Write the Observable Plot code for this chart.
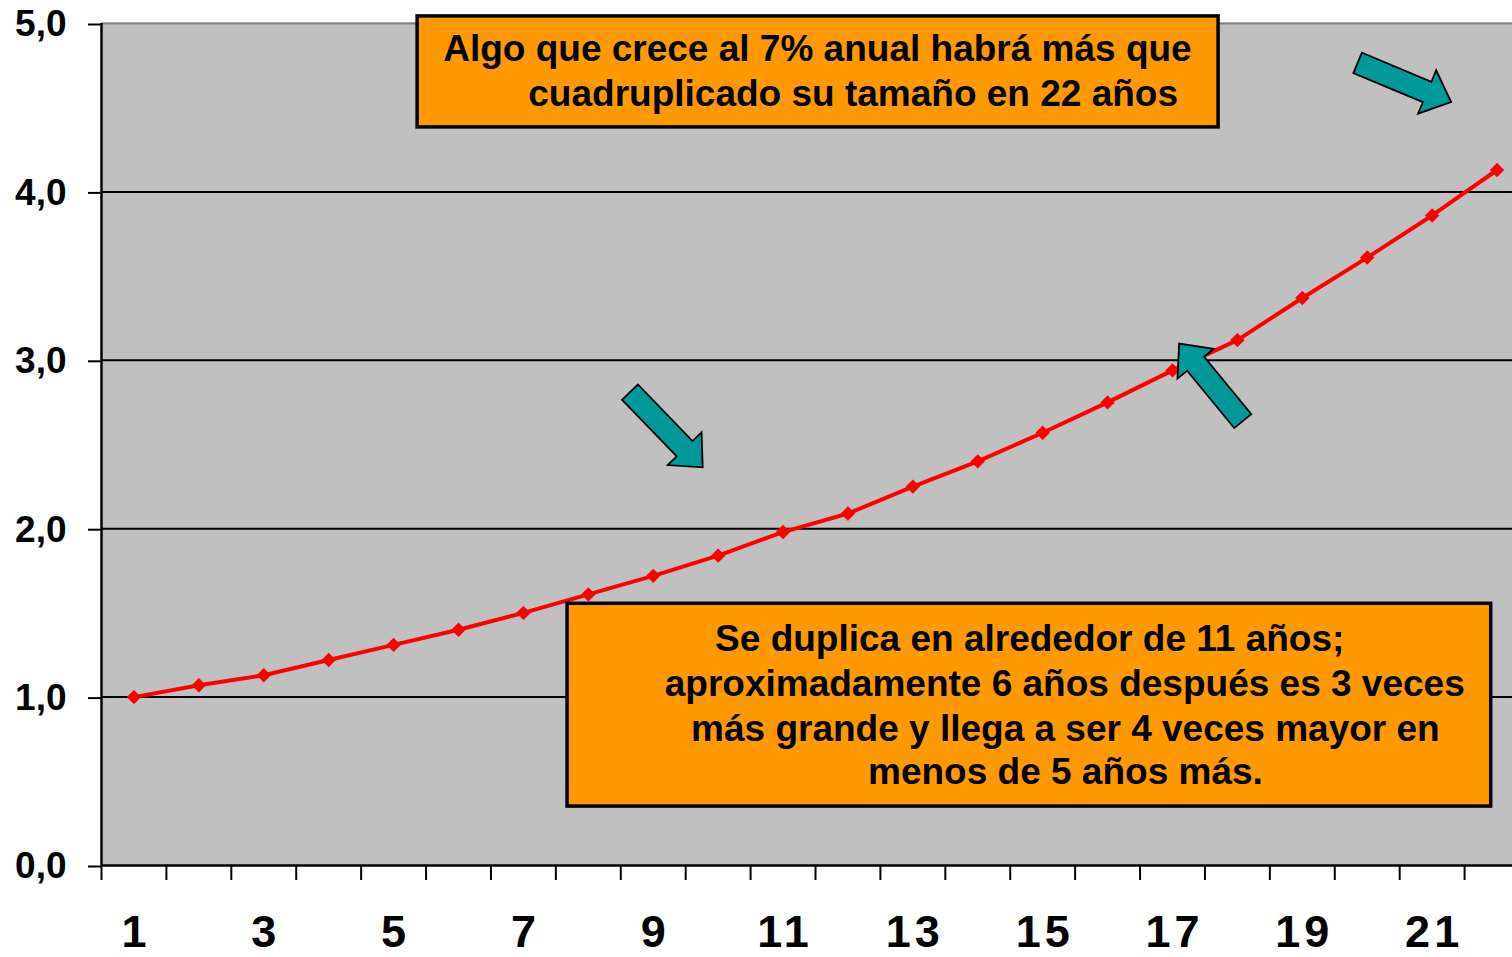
<!DOCTYPE html>
<html>
<head>
<meta charset="utf-8">
<script src="https://cdn.jsdelivr.net/npm/d3@7"></script>
<script src="https://cdn.jsdelivr.net/npm/@observablehq/plot@0.6"></script>
<style>
  html, body { margin: 0; padding: 0; background: white; }
  #chart { width: 1512px; height: 957px; overflow: hidden; }
</style>
</head>
<body>
<div id="chart"></div>
<script>
// ---- data ----
const years = [1, 2, 3, 4, 5, 6, 7, 8, 9, 10, 11, 12, 13, 14, 15, 16, 17, 18, 19, 20, 21, 22];
const values = [1.00, 1.07, 1.13, 1.22, 1.31, 1.40, 1.50, 1.61, 1.72, 1.84, 1.98, 2.09, 2.25, 2.40, 2.57, 2.75, 2.94, 3.12, 3.37, 3.61, 3.86, 4.13];
const xTickLabels = [1, 3, 5, 7, 9, 11, 13, 15, 17, 19, 21];
const yTicks = [0, 1, 2, 3, 4, 5];

// ---- annotations (data coordinates) ----
const boxes = [
  {x1: 5.37, x2: 17.71, y1: 5.042, y2: 4.383},
  {x1: 7.68, x2: 21.91, y1: 1.554, y2: 0.350}
];
const notes = [
  {x: 11.53, y: 4.775, text: "Algo que crece al 7% anual habrá más que"},
  {x: 12.08, y: 4.508, text: "cuadruplicado su tamaño en 22 años"},
  {x: 14.80, y: 1.275, text: "Se duplica en alrededor de 11 años;"},
  {x: 15.34, y: 1.008, text: "aproximadamente 6 años después es 3 veces"},
  {x: 15.35, y: 0.741, text: "más grande y llega a ser 4 veces mayor en"},
  {x: 15.35, y: 0.486, text: "menos de 5 años más."}
];
const arrows = [
  {x1: 19.86, y1: 4.763, x2: 21.30, y2: 4.531},
  {x1: 8.65, y1: 2.808, x2: 9.77, y2: 2.361},
  {x1: 18.09, y1: 2.636, x2: 17.11, y2: 3.096}
];

const series = years.map((year, i) => ({year, value: values[i]}));
const boundaries = years.map(d => d - 0.5);
const fmt = d => d.toFixed(1).replace(".", ",");

function blockArrows(index, scales) {
  const g = d3.create("svg:g").attr("aria-label", "arrows");
  const sw = 11, hw = 23.5, hl = 26;
  for (const a of arrows) {
    const tx = scales.x(a.x1), ty = scales.y(a.y1);
    const px = scales.x(a.x2), py = scales.y(a.y2);
    const dx = px - tx, dy = py - ty, L = Math.hypot(dx, dy);
    const ux = dx / L, uy = dy / L, nx = -uy, ny = ux;
    const bx = px - ux * hl, by = py - uy * hl;
    const pts = [
      [tx + nx * sw, ty + ny * sw],
      [bx + nx * sw, by + ny * sw],
      [bx + nx * hw, by + ny * hw],
      [px, py],
      [bx - nx * hw, by - ny * hw],
      [bx - nx * sw, by - ny * sw],
      [tx - nx * sw, ty - ny * sw]
    ];
    g.append("polygon")
      .attr("points", pts.map(p => p.join(",")).join(" "))
      .attr("fill", "#009999")
      .attr("stroke", "black")
      .attr("stroke-width", 1.8)
      .attr("stroke-linejoin", "miter");
  }
  return g.node();
}

const chart = Plot.plot({
  width: 1512,
  height: 957,
  marginLeft: 101,
  marginRight: 0,
  marginTop: 22,
  marginBottom: 92,
  style: {fontFamily: "'Liberation Sans', Arial, sans-serif", background: "white", color: "black", overflow: "hidden"},
  x: {type: "linear", domain: [0.5, 22.5], range: [101, 1529]},
  y: {domain: [0, 5], range: [865, 23]},
  marks: [
    Plot.frame({fill: "#c0c0c0", stroke: "none"}),
    Plot.ruleY([1, 2, 3, 4], {stroke: "black", strokeWidth: 2}),
    Plot.ruleY([5], {stroke: "#808080", strokeWidth: 2}),
    Plot.ruleY([0], {stroke: "black", strokeWidth: 2.5}),
    Plot.ruleX([0.5], {y1: 0, y2: 5, stroke: "black", strokeWidth: 2.5}),
    Plot.axisY({ticks: yTicks, tickFormat: fmt, tickSize: 13, tickPadding: 22, fontSize: 37, fontWeight: "bold", strokeWidth: 2, dy: 1}),
    Plot.axisX({ticks: boundaries, tickFormat: () => "", tickSize: 15, strokeWidth: 2}),
    Plot.axisX({ticks: xTickLabels, tickFormat: d => String(d), tickSize: 0, tickPadding: 50, fontSize: 45, fontWeight: "bold", dx: 2}),
    Plot.line(series, {x: "year", y: "value", stroke: "#ff0000", strokeWidth: 4}),
    Plot.dot(series, {x: "year", y: "value", symbol: "diamond2", r: 6.5, fill: "#ff0000", stroke: "none"}),
    Plot.rect(boxes, {x1: "x1", x2: "x2", y1: "y1", y2: "y2", fill: "#ff9900", stroke: "black", strokeWidth: 3.5}),
    Plot.text(notes, {x: "x", y: "y", text: "text", fontSize: 37, fontWeight: "bold", lineAnchor: "bottom", textAnchor: "middle", fill: "black"}),
    blockArrows
  ]
});

chart.querySelectorAll('g[aria-label="x-axis tick label"] text').forEach(t => t.setAttribute("letter-spacing", "4"));
document.getElementById("chart").appendChild(chart);
</script>
</body>
</html>
